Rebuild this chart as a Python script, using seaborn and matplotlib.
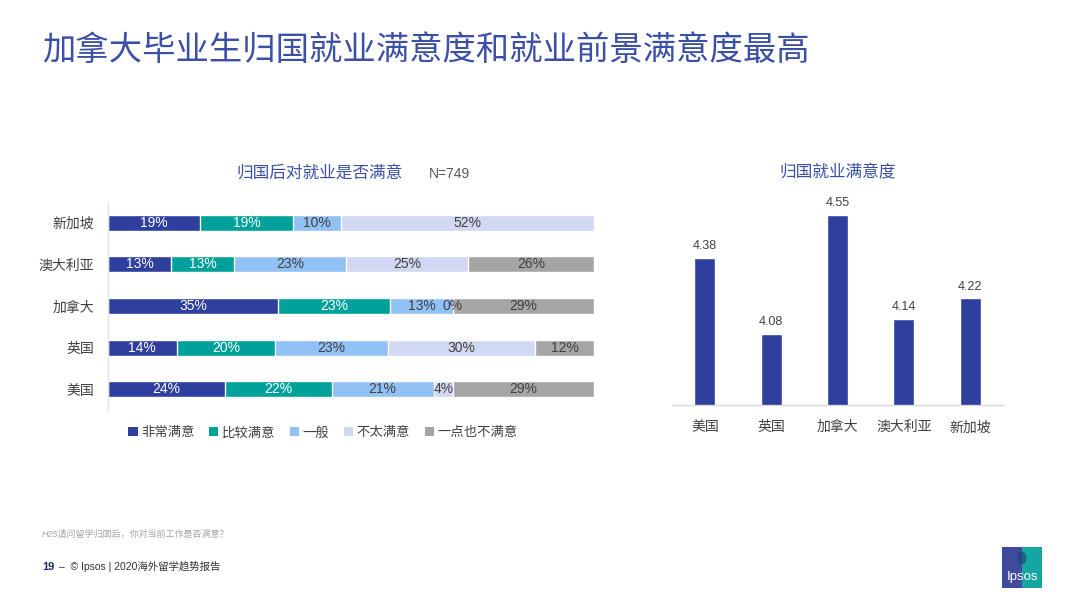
import numpy as np
import pandas as pd
import matplotlib
matplotlib.use("Agg")
import matplotlib.pyplot as plt
from matplotlib.patches import Patch, Rectangle, Ellipse
import seaborn as sns

# ---- data ----
countries_left = ["新加坡", "澳大利亚", "加拿大", "英国", "美国"]
levels = ["非常满意", "比较满意", "一般", "不太满意", "一点也不满意"]
very_sat = [19, 13, 35, 14, 24]
fairly_sat = [19, 13, 23, 20, 22]
neutral = [10, 23, 13, 23, 21]
not_very = [52, 25, 0, 30, 4]
not_at_all = [None, 26, 29, 12, 29]
sample_note = "N=749"

countries_right = ["美国", "英国", "加拿大", "澳大利亚", "新加坡"]
scores = [4.38, 4.08, 4.55, 4.14, 4.22]

level_colors = ["#2e3f9e", "#00a19b", "#92c1f5", "#d1d8f1", "#a5a5a5"]
label_colors = ["white", "white", "#404040", "#404040", "#404040"]

sns.set_theme(style="white")
plt.rcParams["font.family"] = ["Liberation Sans", "Noto Sans CJK SC", "DejaVu Sans"]

fig = plt.figure(figsize=(10.8, 6.02), dpi=100)
W, H = 1080, 602


def fx(px):
    return px / W


def fy(px):
    return 1 - px / H


# ---- title ----
fig.text(fx(42), fy(51), "加拿大毕业生归国就业满意度和就业前景满意度最高",
         fontsize=24, color="#3b4fa6", va="center", ha="left")

# ---- left: stacked 100% bars ----
series = [very_sat, fairly_sat, neutral, not_very, not_at_all]
df = pd.DataFrame({lv: [0 if v is None else v for v in s] for lv, s in zip(levels, series)},
                  index=countries_left)
share = df.div(df.sum(axis=1), axis=0) * 100
cum = share.cumsum(axis=1)

ax1 = fig.add_axes([fx(108), fy(410), fx(486), (410 - 201.7) / H])
# draw cumulative widths from the last level to the first, each covering the next
for i in range(len(levels) - 1, -1, -1):
    sns.barplot(x=cum[levels[i]].values, y=countries_left, orient="h",
                color=level_colors[i], width=0.384, saturation=1,
                ax=ax1)

for i, s in enumerate(series):
    for r, v in enumerate(s):
        if v is None:
            continue
        centre = cum[levels[i]].iloc[r] - share[levels[i]].iloc[r] / 2
        ax1.text(centre, r, f"{v}%", ha="center", va="center",
                 fontsize=10, color=label_colors[i])

ax1.set_xlim(0, 100)
ax1.set_ylim(4.5, -0.5)
ax1.set_xticks([])
ax1.set_xlabel("")
ax1.set_ylabel("")
ax1.tick_params(axis="y", length=0, pad=10, labelsize=10, labelcolor="#404040")
for sp in ["top", "right", "bottom"]:
    ax1.spines[sp].set_visible(False)
ax1.spines["left"].set_color("#e3e3e3")
ax1.spines["left"].set_linewidth(1)

fig.text(fx(320), fy(173), "归国后对就业是否满意", fontsize=12, color="#3b4fa6",
         ha="center", va="center")
fig.text(fx(429), fy(174), sample_note, fontsize=10, color="#595959",
         ha="left", va="center")

handles = [Patch(facecolor=c, edgecolor="none") for c in level_colors]
fig.legend(handles, levels, loc="center", bbox_to_anchor=(fx(323), fy(433)),
           ncol=5, frameon=False, fontsize=9.6, handlelength=0.7,
           handleheight=0.7, handletextpad=0.25, columnspacing=1.1,
           labelcolor="#404040")

# ---- right: satisfaction score ----
ax2 = fig.add_axes([fx(671.7), fy(405), fx(331.5), 0.9 * 254 / H])
sns.barplot(x=countries_right, y=scores, color="#2e3f9e", saturation=1,
            width=0.317, ax=ax2)
ax2.bar_label(ax2.containers[0], fmt="%.2f", padding=4, fontsize=9,
              color="#404040")
ax2.set_ylim(3.8, 4.7)
ax2.set_xlim(-0.5, 4.5)
ax2.set_yticks([])
ax2.set_ylabel("")
ax2.tick_params(axis="x", length=0, pad=11, labelsize=10, labelcolor="#404040")
for sp in ["top", "right", "left"]:
    ax2.spines[sp].set_visible(False)
ax2.spines["bottom"].set_color("#d9d9d9")
ax2.spines["bottom"].set_linewidth(1)

fig.text(fx(838), fy(172), "归国就业满意度", fontsize=12, color="#3b4fa6",
         ha="center", va="center")

# ---- footer ----
fig.text(fx(42), fy(534), "H25请问留学归国后，你对当前工作是否满意？",
         fontsize=6.5, color="#a6a6a6", style="italic", ha="left", va="center")
fig.text(fx(42), fy(567), "19", fontsize=8, color="#1f2a6b",
         fontweight="bold", ha="left", va="center")
fig.text(fx(59), fy(567), "–  © Ipsos | 2020海外留学趋势报告", fontsize=7.5,
         color="#333333", ha="left", va="center")

# Ipsos logo block
fig.add_artist(Rectangle((fx(1002), fy(588)), fx(20), (588 - 547) / H,
                         transform=fig.transFigure, facecolor="#3f4a9c",
                         edgecolor="none"))
fig.add_artist(Rectangle((fx(1022), fy(588)), fx(20), (588 - 547) / H,
                         transform=fig.transFigure, facecolor="#14a6a0",
                         edgecolor="none"))
fig.add_artist(Ellipse((fx(1022), fy(558)), fx(9), 13 / H,
                       transform=fig.transFigure, facecolor="#1f3f7a",
                       edgecolor="none", alpha=0.6))
fig.text(fx(1022), fy(577), "Ipsos", fontsize=9.5, color="white",
         ha="center", va="center")

fig.savefig("out.png", dpi=100, facecolor="white")
